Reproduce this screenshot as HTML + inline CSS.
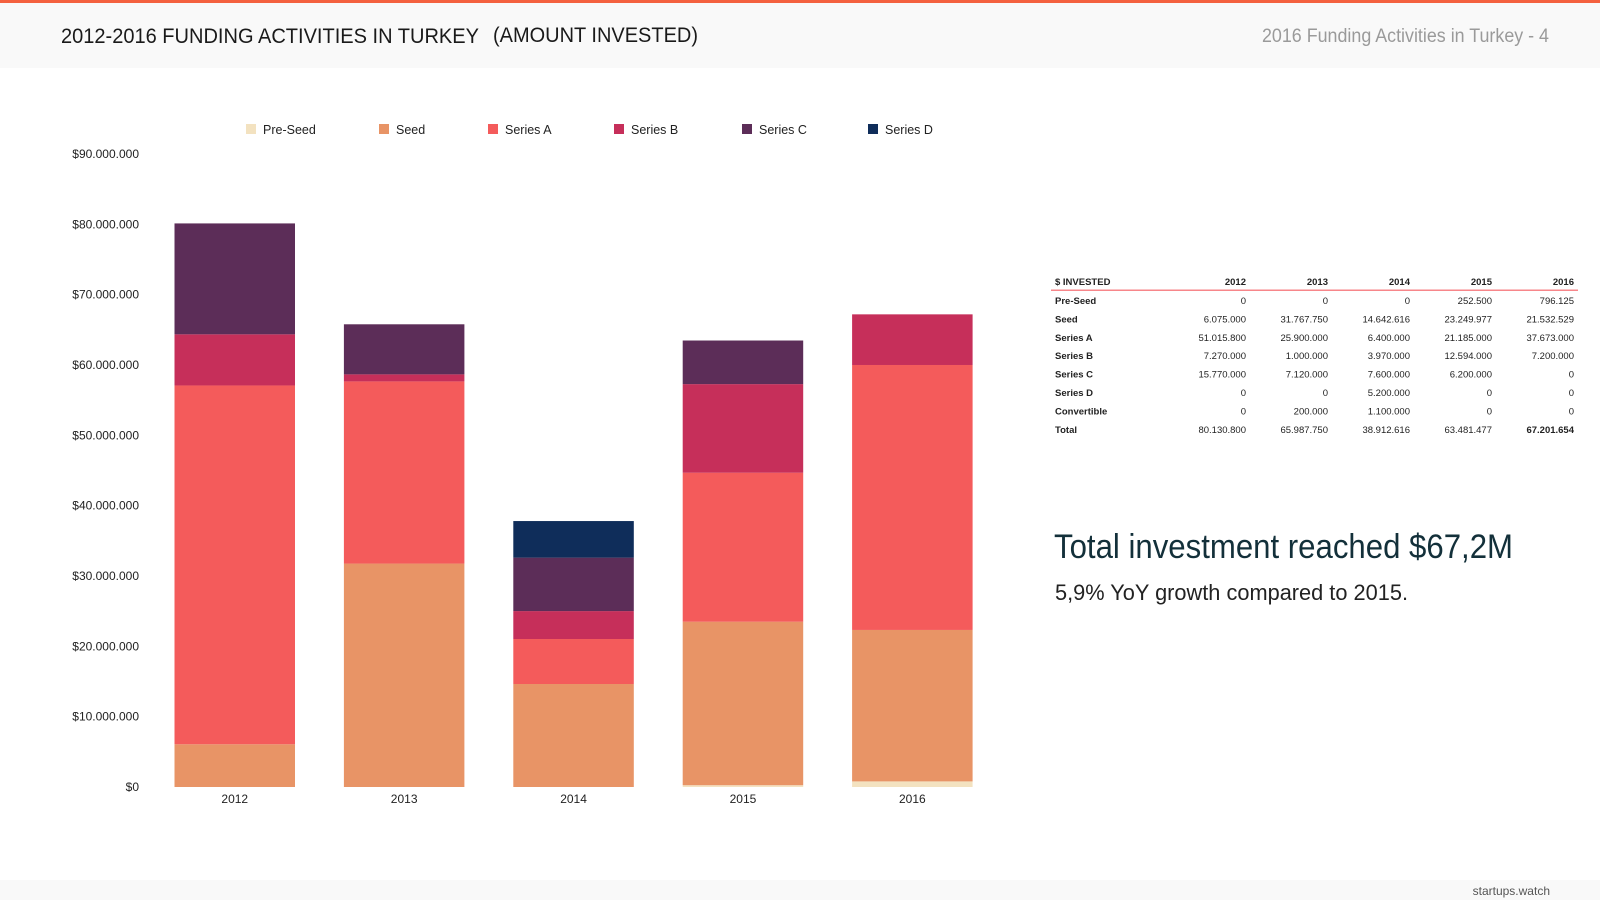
<!DOCTYPE html>
<html><head><meta charset="utf-8"><style>
html,body{margin:0;padding:0;background:#fff;width:1600px;height:900px;overflow:hidden}
svg{display:block;font-family:"Liberation Sans",sans-serif}
</style></head><body>
<svg id="root" width="1600" height="900" viewBox="0 0 1600 900">
<rect x="0" y="0" width="1600" height="68" fill="#f9f9f9"/>
<rect x="0" y="0" width="1600" height="3" fill="#f4613f"/>
<text x="61" y="43" font-size="21" fill="#1a1a1a" textLength="418" lengthAdjust="spacingAndGlyphs">2012-2016 FUNDING ACTIVITIES IN TURKEY</text>
<text x="493" y="42" font-size="21" fill="#1a1a1a" textLength="205" lengthAdjust="spacingAndGlyphs">(AMOUNT INVESTED)</text>
<text x="1549" y="42" font-size="19" fill="#9a9a9a" text-anchor="end" font-weight="300" textLength="287" lengthAdjust="spacingAndGlyphs">2016 Funding Activities in Turkey  -  4</text>
<rect x="0" y="880" width="1600" height="20" fill="#f9f9f9"/>
<text x="1550" y="895" font-size="12" fill="#555" text-anchor="end">startups.watch</text>
<g id="chart"></g>
<g id="table"></g>
<text x="1054" y="558" font-size="34" fill="#13303a" textLength="459" lengthAdjust="spacingAndGlyphs">Total investment reached $67,2M</text>
<text x="1055" y="600" font-size="22" fill="#222" textLength="353" lengthAdjust="spacingAndGlyphs">5,9% YoY growth compared to 2015.</text>
</svg>
<script>
const years = ["2012","2013","2014","2015","2016"];
const seriesNames = ["Pre-Seed","Seed","Series A","Series B","Series C","Series D"];
const preSeed = [0,0,0,252500,796125];
const seed = [6075000,31767750,14642616,23249977,21532529];
const seriesA = [51015800,25900000,6400000,21185000,37673000];
const seriesB = [7270000,1000000,3970000,12594000,7200000];
const seriesC = [15770000,7120000,7600000,6200000,0];
const seriesD = [0,0,5200000,0,0];
const convertible = [0,200000,1100000,0,0];
const totals = ["80.130.800","65.987.750","38.912.616","63.481.477","67.201.654"];
const yTicks = [0,10000000,20000000,30000000,40000000,50000000,60000000,70000000,80000000,90000000];
const yTickLabels = ["$0","$10.000.000","$20.000.000","$30.000.000","$40.000.000","$50.000.000","$60.000.000","$70.000.000","$80.000.000","$90.000.000"];

const NS="http://www.w3.org/2000/svg";
const colors=["#f3e2c0","#e89466","#f45b5b","#c62f5a","#5c2d58","#0f2d5a"];
const all=[preSeed,seed,seriesA,seriesB,seriesC,seriesD];
const y0=787, pxPer=(787-154)/90000000;
const yS=v=>y0-v*pxPer;
const xS=i=>174.5+i*169.4;
const bw=120.5;
function mk(tag,attrs,parent,txt){const e=document.createElementNS(NS,tag);for(const k in attrs)e.setAttribute(k,attrs[k]);if(txt!==undefined)e.textContent=txt;parent.appendChild(e);return e;}
const chart=document.getElementById('chart');
yTicks.forEach((t,i)=>{
  const e=mk('text',{x:139,y:yS(t)+4,'font-size':12,fill:'#222','text-anchor':'end'},chart,yTickLabels[i]);
  
  
});
years.forEach((yr,i)=>{
  let acc=0;
  all.forEach((s,k)=>{
    const v=s[i]; if(!v){return;}
    const r=mk('rect',{x:xS(i),y:yS(acc+v),width:bw,height:v*pxPer,fill:colors[k]},chart);
    
    
    acc+=v;
  });
  const l=mk('text',{x:xS(i)+bw/2,y:803,'font-size':12,fill:'#222','text-anchor':'middle'},chart,yr);
  
  
});
const legX=[246,379,488,614,742,868];
seriesNames.forEach((n,k)=>{
  const g=mk('g',{},chart);
  
  
  mk('rect',{x:legX[k],y:124,width:10,height:10,fill:colors[k]},g);
  mk('text',{x:legX[k]+17,y:134,'font-size':12.5,fill:'#222'},g,n);
});
// table
const tbl=document.getElementById('table');
const colR=[1246,1328,1410,1492,1574];
const fmt=v=>v===0?"0":v.toString().replace(/\B(?=(\d{3})+(?!\d))/g,".");
mk('text',{x:1055,y:285,'font-size':9.5,'font-weight':'bold',fill:'#222'},tbl,"$ INVESTED");
years.forEach((y,i)=>mk('text',{x:colR[i],y:285,'font-size':9.5,'font-weight':'bold',fill:'#222','text-anchor':'end'},tbl,y));
mk('rect',{x:1051,y:289.5,width:527,height:1.5,fill:'#f7868a'},tbl);
const rowNames=["Pre-Seed","Seed","Series A","Series B","Series C","Series D","Convertible"];
const rows=[preSeed,seed,seriesA,seriesB,seriesC,seriesD,convertible];
rows.forEach((r,j)=>{
  const yy=304+j*18.4;
  mk('text',{x:1055,y:yy,'font-size':9.5,'font-weight':'bold',fill:'#222'},tbl,rowNames[j]);
  r.forEach((v,i)=>mk('text',{x:colR[i],y:yy,'font-size':9.5,fill:'#222','text-anchor':'end'},tbl,fmt(v)));
});
const ty=304+7*18.4;
mk('text',{x:1055,y:ty,'font-size':9.5,'font-weight':'bold',fill:'#222'},tbl,"Total");
totals.forEach((t,i)=>mk('text',{x:colR[i],y:ty,'font-size':9.5,fill:'#222','font-weight':i===4?'bold':'normal','text-anchor':'end'},tbl,t));
</script>
</body></html>
